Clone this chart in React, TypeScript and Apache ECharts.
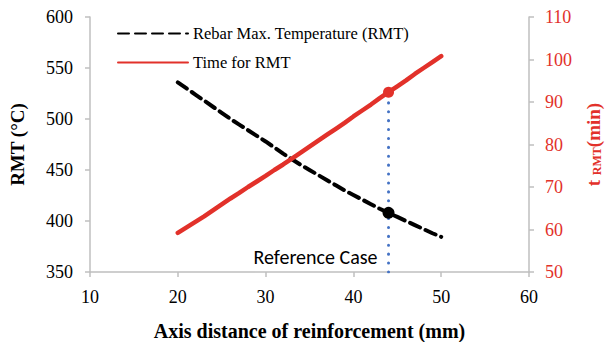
import React, { useEffect, useRef } from "react";
import * as echarts from "echarts";

const distances = [20, 21, 22, 23, 24, 25, 26, 27, 28, 29, 30, 31, 32, 33, 34, 35, 36, 37, 38, 39, 40, 41, 42, 43, 44, 45, 46, 47, 48, 49, 50];
const rmtValues = [536, 530, 524, 518, 512, 506, 500, 494.5, 489, 483.5, 478, 472, 466, 460.5, 455, 450, 445, 440, 435, 430, 425.5, 421, 416.5, 412, 408, 404, 400, 396, 392, 388, 384.5];
const timeValues = [59.2, 60.5, 61.8, 63.1, 64.5, 65.9, 67.3, 68.6, 70, 71.3, 72.6, 74, 75.3, 76.7, 78.1, 79.5, 80.9, 82.3, 83.7, 85.1, 86.6, 88, 89.4, 90.9, 92.3, 93.7, 95.1, 96.6, 98, 99.4, 100.8];
const referenceDistance = 44;
const referenceLabel = "Reference Case";
const seriesNames = ["Rebar Max. Temperature (RMT)", "Time for RMT"];

const RED = "#E2312A";
const BLUE = "#4472C4";
const SERIF = "Liberation Serif";
const SANS = "Carlito, Liberation Sans, sans-serif";

export default function App() {
  const ref = useRef<HTMLDivElement>(null);
  useEffect(() => {
    if (!ref.current) return;
    const chart = echarts.init(ref.current, undefined, { renderer: "svg" });
    const refIdx = distances.indexOf(referenceDistance);
    const rmtData = distances.map((d, i) => [d, rmtValues[i]]);
    const timeData = distances.map((d, i) => [d, timeValues[i]]);
    const axisLine = { show: true, lineStyle: { color: "#BFBFBF", width: 1.5 } };
    const axisTick = { show: true, inside: false, length: 5, lineStyle: { color: "#BFBFBF", width: 1.5 } };
    chart.setOption({
      animation: false,
      textStyle: { fontFamily: SERIF },
      grid: { left: 90, right: 77, top: 17, bottom: 70, containLabel: false, outerBoundsMode: "none" },
      legend: {
        data: seriesNames,
        orient: "vertical",
        left: 112,
        top: 20,
        itemWidth: 70,
        itemHeight: 14,
        itemGap: 12,
        itemStyle: { opacity: 0, borderWidth: 0 },
        textStyle: { fontFamily: SERIF, fontSize: 16.5, color: "#000" },
      },
      xAxis: {
        type: "value",
        min: 10,
        max: 60,
        interval: 10,
        axisLine,
        axisTick,
        splitLine: { show: false },
        axisLabel: { fontFamily: SERIF, fontSize: 18, color: "#000", margin: 16 },
        name: "Axis distance of reinforcement (mm)",
        nameLocation: "middle",
        nameGap: 49,
        nameTextStyle: { fontFamily: SERIF, fontSize: 20, fontWeight: "bold", color: "#000" },
      },
      yAxis: [
        {
          type: "value",
          min: 350,
          max: 600,
          interval: 50,
          position: "left",
          axisLine,
          axisTick,
          splitLine: { show: false },
          axisLabel: { fontFamily: SERIF, fontSize: 18, color: "#000", margin: 17 },
          name: "RMT (°C)",
          nameLocation: "middle",
          nameRotate: 90,
          nameGap: 63,
          nameTextStyle: { fontFamily: SERIF, fontSize: 19, fontWeight: "bold", color: "#000" },
        },
        {
          type: "value",
          min: 50,
          max: 110,
          interval: 10,
          position: "right",
          axisLine,
          axisTick,
          splitLine: { show: false },
          axisLabel: { fontFamily: SERIF, fontSize: 18, color: RED, margin: 16 },
          name: "{a|t }{s|RMT}{a|(min)}",
          nameLocation: "middle",
          nameRotate: 90,
          nameGap: 54,
          nameTextStyle: {
            rich: {
              a: { fontFamily: SERIF, fontSize: 19, fontWeight: "bold", color: RED },
              s: { fontFamily: SERIF, fontSize: 12, fontWeight: "bold", color: RED, padding: [8, 0, 0, 0] },
            },
          },
        },
      ],
      series: [
        {
          name: "Reference",
          type: "line",
          yAxisIndex: 1,
          data: [
            [referenceDistance, 50],
            [referenceDistance, timeValues[refIdx]],
          ],
          symbol: "none",
          lineStyle: { color: BLUE, width: 3, type: [0.1, 8.8], cap: "round" },
          z: 1,
        },
        {
          name: seriesNames[0],
          type: "line",
          yAxisIndex: 0,
          data: rmtData,
          symbol: "none",
          itemStyle: { color: "#000" },
          lineStyle: { color: "#000", width: 4, type: [11, 6], cap: "round" },
          markPoint: {
            symbol: "circle",
            symbolSize: 12,
            itemStyle: { color: "#000", opacity: 1 },
            label: { show: false },
            data: [{ coord: [referenceDistance, rmtValues[refIdx]] }],
          },
          z: 2,
        },
        {
          name: seriesNames[1],
          type: "line",
          yAxisIndex: 1,
          data: timeData,
          symbol: "none",
          itemStyle: { color: RED },
          lineStyle: { color: RED, width: 4.5, cap: "round" },
          markPoint: {
            symbol: "circle",
            symbolSize: 11,
            itemStyle: { color: RED, opacity: 1 },
            label: { show: false },
            data: [{ coord: [referenceDistance, timeValues[refIdx]] }],
          },
          z: 3,
        },
      ],
    });
    const p = chart.convertToPixel({ xAxisIndex: 0, yAxisIndex: 1 }, [referenceDistance, 50]) as number[];
    chart.setOption({
      graphic: [
        {
          type: "text",
          x: p[0] - 11,
          y: p[1] - 15,
          style: {
            text: referenceLabel,
            fontFamily: SANS,
            fontSize: 20,
            fill: "#000",
            align: "right",
            verticalAlign: "middle",
          },
        },
      ],
    });
    return () => chart.dispose();
  }, []);
  return <div ref={ref} style={{ width: 606, height: 342, position: "absolute", left: 0, top: 0 }} />;
}
